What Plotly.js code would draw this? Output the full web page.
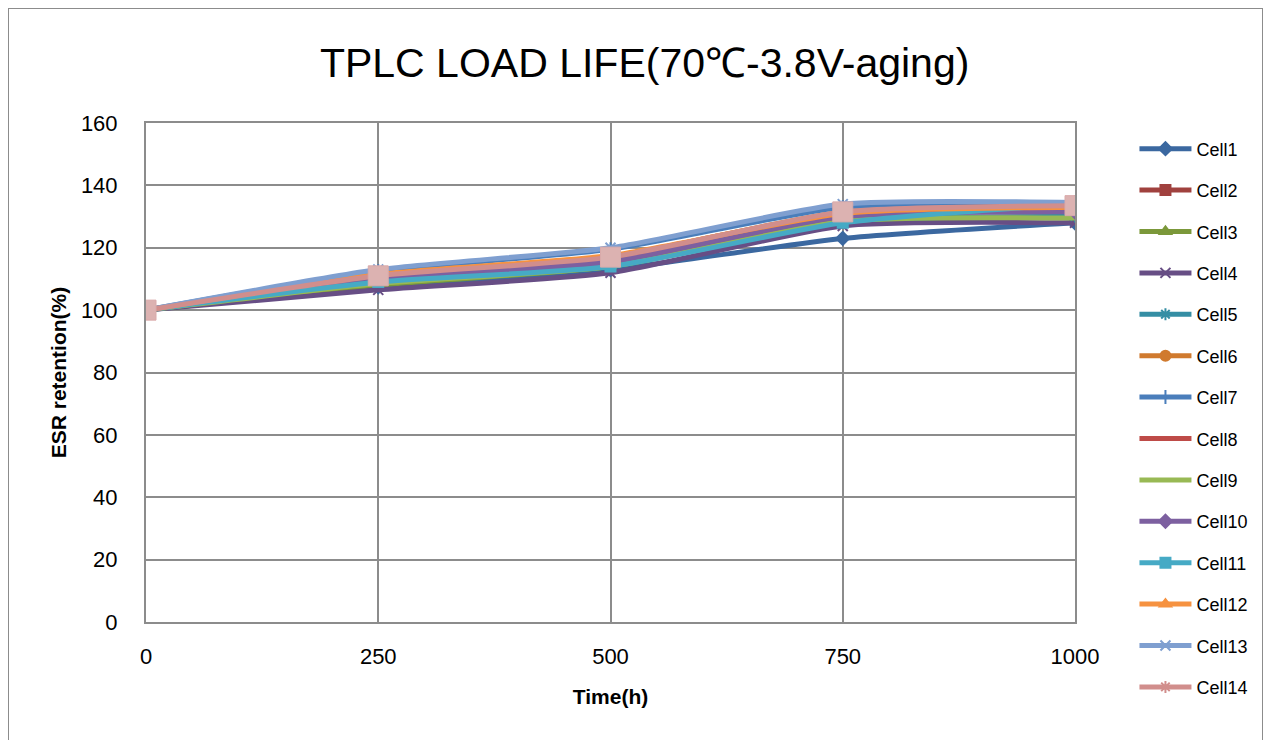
<!DOCTYPE html>
<html><head><meta charset="utf-8">
<script src="https://cdn.plot.ly/plotly-3.0.1.min.js"></script>
<style>
html,body{margin:0;padding:0;background:#fff;}
#frame{position:absolute;left:8px;top:8px;width:1253px;height:760px;border:1px solid #8c8c8c;pointer-events:none;}
#chart{position:absolute;left:0;top:0;width:1269px;height:740px;}
</style></head>
<body>
<div id="chart"></div>
<div id="frame"></div>
<script>
const timeH = [0, 250, 500, 750, 1000];
const cell1  = [100, 107.5, 113.0, 123.0, 128.0];
const cell2  = [100, 110.0, 116.0, 130.0, 132.0];
const cell3  = [100, 108.0, 114.0, 128.0, 130.0];
const cell4  = [100, 106.5, 112.0, 127.0, 128.0];
const cell5  = [100, 109.0, 114.5, 128.5, 130.0];
const cell6  = [100, 111.0, 117.0, 131.5, 133.5];
const cell7  = [100, 112.5, 119.5, 133.0, 134.5];
const cell8  = [100, 110.5, 116.0, 130.0, 132.0];
const cell9  = [100, 108.5, 114.0, 128.5, 129.5];
const cell10 = [100, 110.0, 115.5, 130.0, 131.5];
const cell11 = [100, 109.0, 114.0, 128.0, 134.0];
const cell12 = [100, 111.5, 117.5, 131.0, 133.0];
const cell13 = [100, 113.0, 120.0, 134.0, 134.5];
const cell14 = [100, 111.0, 117.0, 131.5, 133.5];
const cellNames = ["Cell1","Cell2","Cell3","Cell4","Cell5","Cell6","Cell7","Cell8","Cell9","Cell10","Cell11","Cell12","Cell13","Cell14"];
const cellValues = [cell1,cell2,cell3,cell4,cell5,cell6,cell7,cell8,cell9,cell10,cell11,cell12,cell13,cell14];
const colors = ["#3B68A0","#A0413E","#7B983A","#674E85","#358EA4","#D07A2E","#4A7EBB","#BE4B48","#98B954","#7D60A0","#46AAC5","#F69240","#7F9FD0","#D18E8C"];
const symbols = ["diamond","square","triangle-up","x-thin-open","asterisk-open","circle","line-ns-open","circle","circle","diamond","square","triangle-up","x-thin-open","asterisk-open"];
const showMarker = [true,true,true,true,true,true,true,false,false,true,true,true,true,true];

const traces = cellNames.map((n,i)=>({
  x: timeH, y: cellValues[i], name: n, type: 'scatter',
  mode: showMarker[i] ? 'lines+markers' : 'lines',
  line: {color: colors[i], width: 5, shape: 'spline', smoothing: 0.6},
  marker: {symbol: symbols[i], size: 10, color: colors[i], line: {color: colors[i], width: 2}},
  legendgroup: 'g'+i
}));
// big pale squares drawn on top at each point (Cell14 marker in plot)
traces.push({
  x: timeH, y: cell14, type: 'scatter', mode: 'markers', showlegend: false,
  marker: {symbol: 'square', size: 20, color: '#DCB2B1', line: {color: '#D9AAAA', width: 1}},
  hoverinfo: 'skip'
});

const layout = {
  width: 1269, height: 740,
  margin: {l: 146, r: 194, t: 123, b: 118},
  paper_bgcolor: '#ffffff', plot_bgcolor: '#ffffff',
  font: {family: 'Liberation Sans, Arial, sans-serif', color: '#000'},
  title: {text: 'TPLC LOAD LIFE(70℃-3.8V-aging)', font: {size: 41, family: 'Liberation Sans, Arial, sans-serif', color: '#000'}, x: 0.508, xanchor: 'center', y: 0.915, yanchor: 'middle'},
  xaxis: {
    range: [0, 1000], tickvals: [0,250,500,750,1000], ticktext: ['0','250','500','750','1000'],
    showgrid: true, gridcolor: '#8c8c8c', gridwidth: 2,
    showline: true, linecolor: '#8c8c8c', linewidth: 2, mirror: true,
    zeroline: false, ticks: '', ticklen: 0, ticklabelstandoff: 14,
    tickfont: {size: 22}, automargin: false,
    title: {text: '<b>Time(h)</b>', font: {size: 21}, standoff: 21}
  },
  yaxis: {
    range: [0, 160], dtick: 20, tick0: 0,
    showgrid: true, gridcolor: '#8c8c8c', gridwidth: 2,
    showline: true, linecolor: '#8c8c8c', linewidth: 2, mirror: true,
    zeroline: false, ticks: '', tickfont: {size: 22}, automargin: false, ticklabelstandoff: 22,
    title: {text: '<b>ESR retention(%)</b>', font: {size: 21}, standoff: 9}
  },
  legend: {
    x: 1.064, xanchor: 'left', y: 0.985, yanchor: 'top',
    font: {size: 18}, tracegroupgap: 15, itemwidth: 52, maxheight: 720,
    bgcolor: 'rgba(0,0,0,0)', traceorder: 'grouped'
  },
  showlegend: true
};
Plotly.newPlot('chart', traces, layout, {displayModeBar: false, staticPlot: true});
</script>
</body></html>
